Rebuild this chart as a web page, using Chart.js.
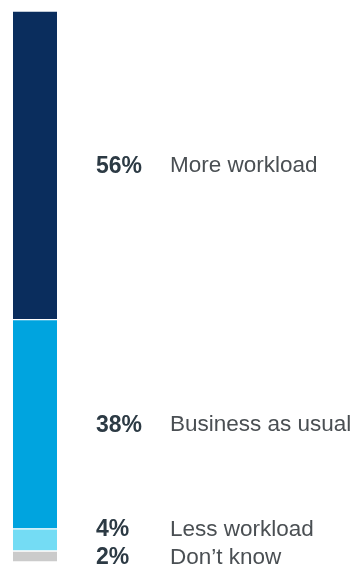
<!DOCTYPE html>
<html>
<head>
<meta charset="utf-8">
<script src="https://cdn.jsdelivr.net/npm/chart.js@4"></script>
<style>
    html, body { margin: 0; padding: 0; background: #ffffff; }
    #wrap { width: 354px; height: 566px; position: relative; }
</style>
</head>
<body>
<div id="wrap"><canvas id="workloadChart"></canvas></div>
<script>
// Answers, listed bottom to top of the stacked bar
const answers = ['Don\u2019t know', 'Less workload', 'Business as usual', 'More workload'];
const shares = [2, 4, 38, 56];
const shareLabels = ['2%', '4%', '38%', '56%'];
const segmentColors = ['#cbcbcb', '#74dcf4', '#00a4df', '#0a2d5d'];

// Draw percent + answer text next to each segment
const sideLabels = {
    id: 'sideLabels',
    afterDraw(chart) {
        const ctx = chart.ctx;
        const y = chart.scales.y;
        let prevY = null;
        let cum = 0;
        ctx.save();
        ctx.textBaseline = 'middle';
        ctx.textAlign = 'left';
        for (let i = 0; i < shares.length; i++) {
            let py = y.getPixelForValue(cum + shares[i] / 2) + 1;
            cum += shares[i];
            // keep small labels from overlapping
            if (prevY !== null && prevY - py < 28) {
                py = prevY - 28;
            }
            prevY = py;
            ctx.font = 'bold 23px "Liberation Sans", Arial, sans-serif';
            ctx.fillStyle = '#2c3a44';
            ctx.fillText(shareLabels[i], 96, py);
            ctx.font = '22.5px "Liberation Sans", Arial, sans-serif';
            ctx.fillStyle = '#4a4f53';
            ctx.fillText(answers[i], 170, py);
        }
        ctx.restore();
    }
};

document.addEventListener('DOMContentLoaded', function() {
    const ctx = document.getElementById('workloadChart').getContext('2d');
    new Chart(ctx, {
        type: 'bar',
        data: {
            labels: ['Workload'],
            datasets: answers.map((name, i) => ({
                label: name,
                data: [shares[i]],
                backgroundColor: segmentColors[i],
                borderColor: '#ffffff',
                borderWidth: { top: 1, bottom: 1, left: 0, right: 0 },
                borderSkipped: false,
                categoryPercentage: 1,
                barPercentage: 1
            }))
        },
        options: {
            responsive: true,
            maintainAspectRatio: false,
            animation: false,
            layout: {
                padding: { left: 13, right: 297, top: 11, bottom: 4 }
            },
            plugins: {
                legend: { display: false },
                tooltip: { enabled: false }
            },
            scales: {
                x: { stacked: true, display: false },
                y: { stacked: true, display: false, min: 0, max: 100 }
            }
        },
        plugins: [sideLabels]
    });
});
</script>
</body>
</html>
